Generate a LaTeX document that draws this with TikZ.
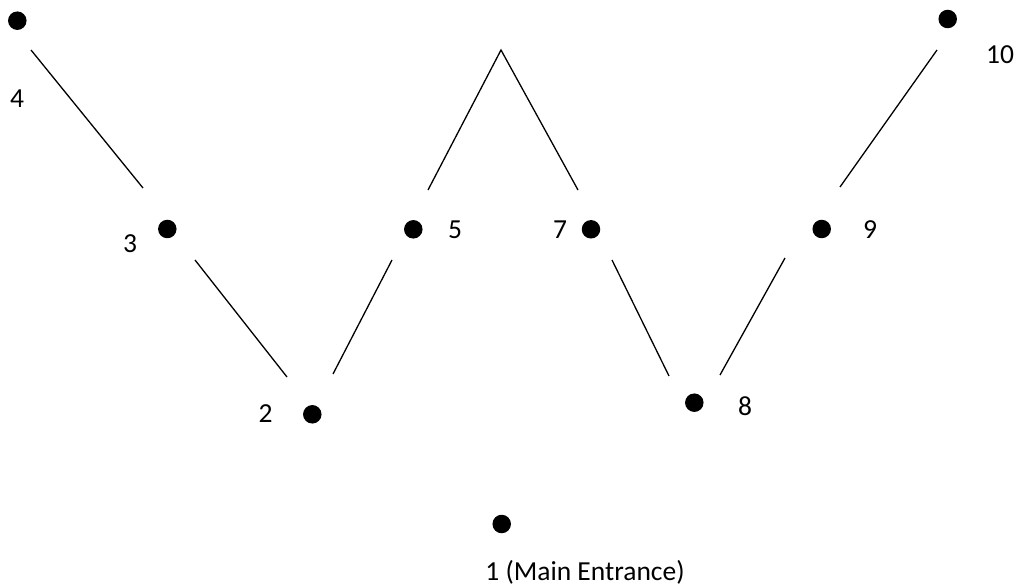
\documentclass[tikz,border=0pt]{standalone}
\usepackage{fontspec}
\setmainfont{Carlito}
\begin{document}
\begin{tikzpicture}[x=1pt,y=-1pt,
  spot/.style={circle,fill=black,inner sep=0pt,minimum size=18.5pt},
  lbl/.style={inner sep=0pt,font=\fontsize{27.5}{33}\selectfont},
  wall/.style={line width=1.3pt,black}]
\useasboundingbox (0,0) rectangle (1018,588);
% dots
\node[spot] (d4) at (17.3,20.7) {};
\node[spot] (d10) at (947.7,19) {};
\node[spot] (d3) at (167.3,229) {};
\node[spot] (d5) at (413.3,229.3) {};
\node[spot] (d7) at (591,229.3) {};
\node[spot] (d9) at (821.7,229) {};
\node[spot] (d2) at (312.3,414.3) {};
\node[spot] (d8) at (694.3,402.7) {};
\node[spot] (d1) at (501.7,524) {};
% labels
\node[lbl] (t4) at (17,98.5) {4};
\node[lbl] (t10) at (1000,55) {10};
\node[lbl] (t3) at (130,243.5) {3};
\node[lbl] (t5) at (455,230) {5};
\node[lbl] (t7) at (560,230) {7};
\node[lbl] (t9) at (870,230) {9};
\node[lbl] (t2) at (265.5,414) {2};
\node[lbl] (t8) at (745,406) {8};
\node[lbl] (t1) at (585,572) {1 (Main Entrance)};
% line end points
\coordinate (a1) at (31,50);
\coordinate (a2) at (143,188);
\coordinate (b1) at (195,260);
\coordinate (b2) at (287,377);
\coordinate (c1) at (333,374);
\coordinate (c2) at (392,260);
\coordinate (p1) at (428,190);
\coordinate (p2) at (501,50);
\coordinate (p3) at (578,190);
\coordinate (e1) at (612,260);
\coordinate (e2) at (669,376);
\coordinate (f1) at (720,375);
\coordinate (f2) at (785,258);
\coordinate (g1) at (840,187);
\coordinate (g2) at (937,50);
% lines
\draw[wall] (a1) -- (a2);
\draw[wall] (b1) -- (b2);
\draw[wall] (c1) -- (c2);
\draw[wall] (p1) -- (p2) -- (p3);
\draw[wall] (e1) -- (e2);
\draw[wall] (f1) -- (f2);
\draw[wall] (g1) -- (g2);
\end{tikzpicture}
\end{document}
